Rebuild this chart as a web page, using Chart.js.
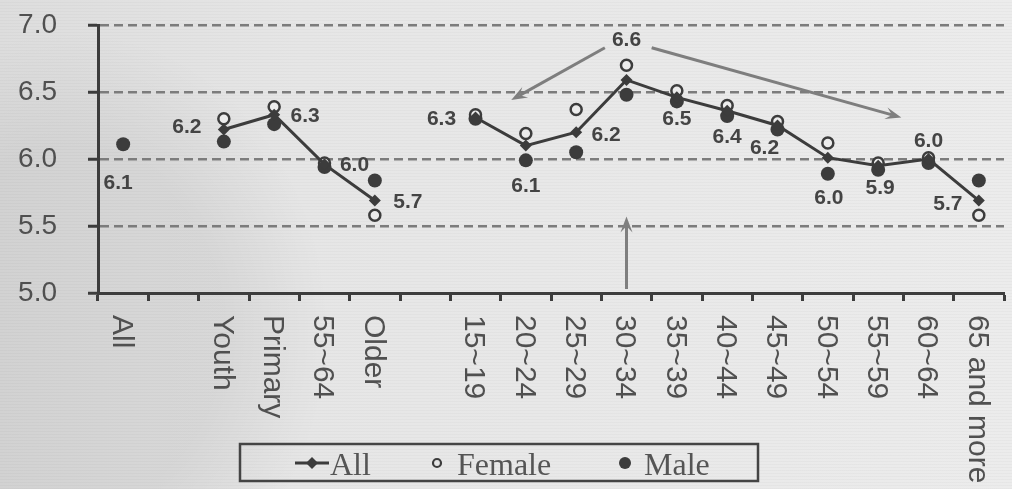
<!DOCTYPE html>
<html>
<head>
<meta charset="utf-8">
<script src="https://cdn.jsdelivr.net/npm/chart.js@4.4.1/dist/chart.umd.min.js"></script>
<style>
  html, body { margin: 0; padding: 0; }
  body {
    width: 1012px; height: 489px; overflow: hidden;
    background:
      repeating-linear-gradient(0deg, rgba(0,0,0,0.025) 0 1px, transparent 1px 3px),
      radial-gradient(ellipse 260px 300px at 70px 330px, rgba(0,0,0,0.05) 0, rgba(0,0,0,0.05) 60%, transparent 100%),
      linear-gradient(90deg, #dddddd 0, #e6e6e6 300px, #ececec 100%);
  }
  canvas { display: block; }
</style>
</head>
<body>
<canvas id="chart" width="1012" height="489"></canvas>
<script>
/* --------------- Data --------------------- */
const categories = ["All", "", "Youth", "Primary", "55~64", "Older", "",
  "15~19", "20~24", "25~29", "30~34", "35~39", "40~44", "45~49",
  "50~54", "55~59", "60~64", "65 and more"];
const allValues    = [6.11, null, 6.22, 6.33, 5.96, 5.69, null, 6.31, 6.10, 6.20, 6.59, 6.46, 6.36, 6.25, 6.01, 5.95, 6.00, 5.69];
const femaleValues = [null, null, 6.30, 6.39, 5.97, 5.58, null, 6.33, 6.19, 6.37, 6.70, 6.51, 6.40, 6.28, 6.12, 5.97, 6.01, 5.58];
const maleValues   = [6.11, null, 6.13, 6.26, 5.94, 5.84, null, 6.30, 5.99, 6.05, 6.48, 6.43, 6.32, 6.22, 5.89, 5.92, 5.97, 5.84];
const allLabels    = ["6.1", "", "6.2", "6.3", "6.0", "5.7", "", "6.3", "6.1", "6.2", "6.6", "6.5", "6.4", "6.2", "6.0", "5.9", "6.0", "5.7"];
const yTicks = [5.0, 5.5, 6.0, 6.5, 7.0];

/* --------------- Where each value label sits, relative to its point --------------------- */
const labelOffsets = [[-5, 39], null, [-37, -2], [31, 1], [30, 1], [33, 2], null,
  [-34, 2], [0, 41], [30, 3], [0, -40], [0, 22], [0, 26], [-13, 23],
  [1, 41], [2, 23], [0, -18], [-31, 4]];

/* --------------- Arrows (in category index / value units) --------------------- */
const arrows = [
  { from: [9.57, 6.83], to: [7.71, 6.44] },
  { from: [10.5, 6.83], to: [15.46, 6.31] },
  { from: [10, 5.03], to: [10, 5.57] },
];

const dark = "#3c3c3c";
const textGrey = "#505050";

/* --------------- Plugins --------------------- */
const extras = {
  id: "extras",
  afterDatasetsDraw(chart) {
    const { ctx, scales: { x, y } } = chart;
    // arrows
    ctx.save();
    ctx.strokeStyle = "#7e7e7e";
    ctx.fillStyle = "#7e7e7e";
    ctx.lineWidth = 3;
    arrows.forEach(a => {
      const x1 = x.getPixelForValue(a.from[0]), y1 = y.getPixelForValue(a.from[1]);
      const x2 = x.getPixelForValue(a.to[0]), y2 = y.getPixelForValue(a.to[1]);
      const ang = Math.atan2(y2 - y1, x2 - x1);
      const hl = 16, hw = 6;
      ctx.beginPath();
      ctx.moveTo(x1, y1);
      ctx.lineTo(x2 - Math.cos(ang) * hl * 0.6, y2 - Math.sin(ang) * hl * 0.6);
      ctx.stroke();
      ctx.beginPath();
      ctx.moveTo(x2, y2);
      ctx.lineTo(x2 - Math.cos(ang) * hl - Math.sin(ang) * hw, y2 - Math.sin(ang) * hl + Math.cos(ang) * hw);
      ctx.lineTo(x2 - Math.cos(ang) * hl * 0.6, y2 - Math.sin(ang) * hl * 0.6);
      ctx.lineTo(x2 - Math.cos(ang) * hl + Math.sin(ang) * hw, y2 - Math.sin(ang) * hl - Math.cos(ang) * hw);
      ctx.closePath();
      ctx.fill();
    });
    // value labels of the "All" series
    const meta = chart.getDatasetMeta(0);
    ctx.font = "bold 21px 'Liberation Sans', Arial, sans-serif";
    ctx.fillStyle = "#444";
    ctx.textAlign = "center";
    ctx.textBaseline = "middle";
    meta.data.forEach((pt, i) => {
      if (!allLabels[i] || !labelOffsets[i]) return;
      ctx.fillText(allLabels[i], pt.x + labelOffsets[i][0], pt.y + labelOffsets[i][1]);
    });
    ctx.restore();
  },
  afterDraw(chart) {
    const { ctx, chartArea, scales: { x } } = chart;
    ctx.save();
    // x labels, turned clockwise
    ctx.font = "30px 'Liberation Sans', Arial, sans-serif";
    ctx.fillStyle = textGrey;
    ctx.textAlign = "left";
    ctx.textBaseline = "middle";
    categories.forEach((c, i) => {
      if (!c) return;
      ctx.save();
      ctx.translate(x.getPixelForValue(i) - 2, chartArea.bottom + 22);
      ctx.rotate(Math.PI / 2);
      ctx.fillText(c, 0, 0);
      ctx.restore();
    });
    // legend box
    ctx.strokeStyle = "#444";
    ctx.lineWidth = 2.5;
    ctx.strokeRect(240, 444, 518, 37);
    const ly = 463;
    ctx.strokeStyle = dark;
    ctx.fillStyle = dark;
    ctx.lineWidth = 3;
    ctx.beginPath(); ctx.moveTo(295, ly); ctx.lineTo(329, ly); ctx.stroke();
    ctx.beginPath();
    ctx.moveTo(312, ly - 6); ctx.lineTo(318, ly); ctx.lineTo(312, ly + 6); ctx.lineTo(306, ly);
    ctx.closePath(); ctx.fill();
    ctx.lineWidth = 2.2;
    ctx.beginPath(); ctx.arc(437, ly, 4, 0, Math.PI * 2); ctx.stroke();
    ctx.beginPath(); ctx.arc(625, ly, 6, 0, Math.PI * 2); ctx.fill();
    ctx.font = "32px 'Liberation Serif', 'Times New Roman', serif";
    ctx.fillStyle = "#555";
    ctx.textBaseline = "alphabetic";
    ctx.fillText("All", 330, 475);
    ctx.fillText("Female", 457, 475);
    ctx.fillText("Male", 644, 475);
    ctx.restore();
  }
};

/* --------------- Chart --------------------- */
new Chart(document.getElementById("chart"), {
  type: "line",
  data: {
    labels: categories,
    datasets: [
      {
        label: "All",
        data: allValues,
        borderColor: dark,
        backgroundColor: dark,
        borderWidth: 3,
        pointStyle: "rectRot",
        pointRadius: 6,
        pointBorderWidth: 0,
        spanGaps: false,
        order: 1,
      },
      {
        label: "Female",
        data: femaleValues,
        showLine: false,
        borderColor: dark,
        backgroundColor: "#ececec",
        pointStyle: "circle",
        pointRadius: 5.5,
        pointBorderWidth: 2.5,
        order: 2,
      },
      {
        label: "Male",
        data: maleValues,
        showLine: false,
        borderColor: dark,
        backgroundColor: dark,
        pointStyle: "circle",
        pointRadius: 7,
        pointBorderWidth: 0,
        order: 3,
      },
    ],
  },
  options: {
    responsive: false,
    animation: false,
    events: [],
    layout: { padding: { left: 18, right: 6, top: 25, bottom: 188 } },
    plugins: {
      legend: { display: false },
      tooltip: { enabled: false },
    },
    scales: {
      x: {
        offset: true,
        afterFit: s => { s.height = 8; },
        ticks: { display: false },
        grid: {
          offset: true,
          drawOnChartArea: false,
          drawTicks: true,
          tickLength: 8,
          tickWidth: 3,
          tickColor: dark,
        },
        border: { color: dark, width: 3 },
      },
      y: {
        min: 5,
        max: 7,
        afterFit: s => { s.width = 80; s.paddingTop = 0; s.paddingBottom = 0; },
        afterBuildTicks: s => { s.ticks = yTicks.map(v => ({ value: v })); },
        ticks: {
          padding: 31,
          color: textGrey,
          font: { family: "'Liberation Sans', Arial, sans-serif", size: 28 },
          callback: v => v.toFixed(1),
        },
        grid: {
          color: ctx => (ctx.tick && ctx.tick.value === 5 ? "transparent" : "#7c7c7c"),
          lineWidth: 2.5,
          tickLength: 10,
          tickWidth: 3,
          tickColor: dark,
        },
        border: { color: dark, width: 3, dash: [9, 5] },
      },
    },
  },
  plugins: [extras],
});
</script>
</body>
</html>
